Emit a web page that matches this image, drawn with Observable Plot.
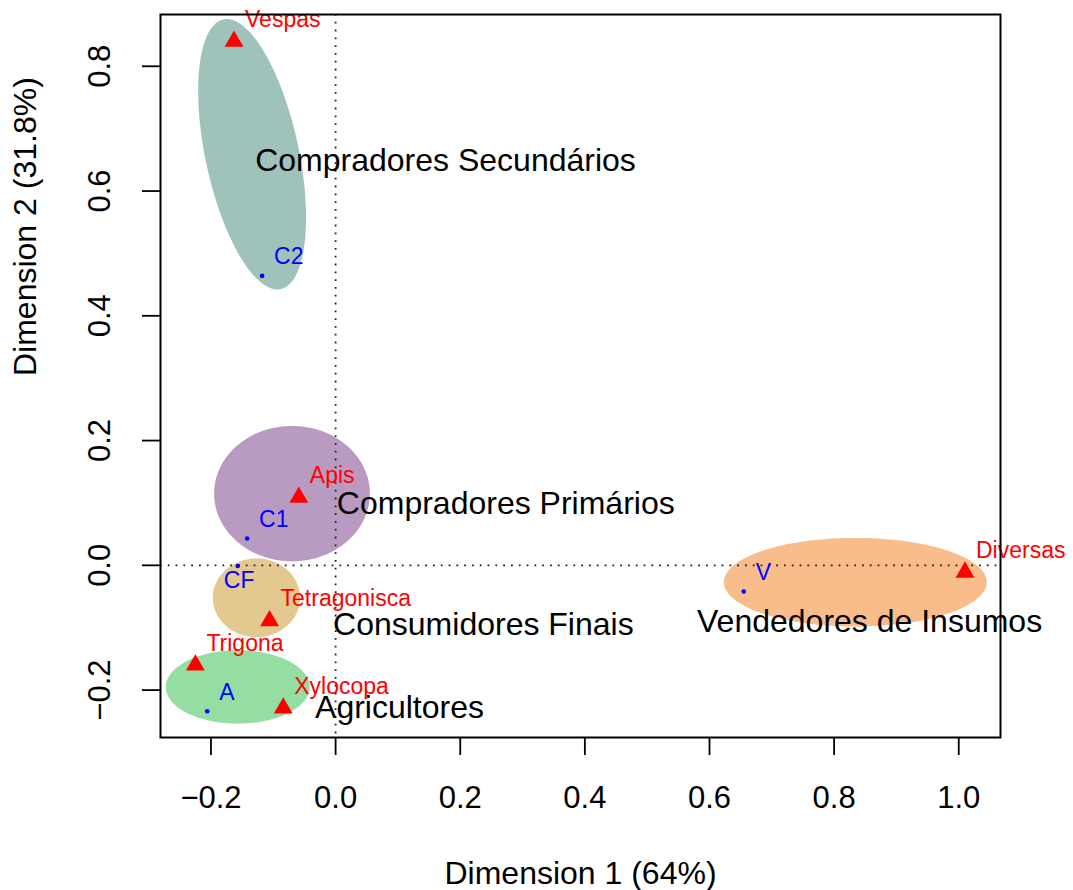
<!DOCTYPE html>
<html>
<head>
<meta charset="utf-8">
<script src="https://cdn.jsdelivr.net/npm/d3@7"></script>
<script src="https://cdn.jsdelivr.net/npm/@observablehq/plot@0.6"></script>
<style>
  html, body { margin: 0; padding: 0; background: #ffffff; }
  #chart svg { display: block; }
</style>
</head>
<body>
<div id="chart"></div>
<script>
// ---- Data ----
// Species (red triangles)
const speciesNames = ["Vespas", "Apis", "Tetragonisca", "Trigona", "Xylocopa", "Diversas"];
const speciesDim1  = [-0.163, -0.059, -0.106, -0.225, -0.084, 1.010];
const speciesDim2  = [ 0.840,  0.109, -0.089, -0.160, -0.229, -0.011];

// Actors (blue points)
const actorNames = ["C2", "C1", "CF", "A", "V"];
const actorDim1  = [-0.118, -0.142, -0.157, -0.206, 0.655];
const actorDim2  = [ 0.464,  0.043, -0.001, -0.234, -0.042];

// Groups (ellipses + black labels)
const groupNames   = ["Compradores Secundários", "Compradores Primários", "Consumidores Finais", "Agricultores", "Vendedores de Insumos"];
const groupLabelX  = [-0.129, 0.002, -0.004, -0.033, 0.580];
const groupLabelY  = [ 0.648, 0.099, -0.095, -0.229, -0.090];
const ellipseCx    = [-0.134, -0.070, -0.127, -0.157, 0.834];
const ellipseCy    = [ 0.659,  0.115, -0.052, -0.195, -0.027];
const ellipseRx    = [ 0.221,  0.125,  0.070,  0.1155, 0.211];
const ellipseRy    = [ 0.075,  0.1085, 0.063,  0.0588, 0.071];
const ellipseAngle = [ 102,    0,      0,      0,      0];   // degrees
const ellipsePalette = ["#9fc3bb", "#b99bc1", "#e3c88f", "#94dda3", "#f9bd8c"];

// Axis ticks and titles
const xTicks = [-0.2, 0.0, 0.2, 0.4, 0.6, 0.8, 1.0];
const yTicks = [-0.2, 0.0, 0.2, 0.4, 0.6, 0.8];
const xTitle = "Dimension 1 (64%)";
const yTitle = "Dimension 2 (31.8%)";

// ---- Build tables ----
const species = speciesNames.map((name, i) => ({name, x: speciesDim1[i], y: speciesDim2[i]}));
const actors  = actorNames.map((name, i) => ({name, x: actorDim1[i], y: actorDim2[i]}));
const groupLabels = groupNames.map((name, i) => ({name, x: groupLabelX[i], y: groupLabelY[i]}));

// Ellipse outlines from centre, radii and angle (geometry of the shape)
function ellipseOutline(i) {
  const n = 144, th = ellipseAngle[i] * Math.PI / 180;
  const pts = [];
  for (let k = 0; k < n; k++) {
    const t = 2 * Math.PI * k / n;
    const a = ellipseRx[i] * Math.cos(t), b = ellipseRy[i] * Math.sin(t);
    pts.push({x: ellipseCx[i] + a * Math.cos(th) - b * Math.sin(th),
              y: ellipseCy[i] + a * Math.sin(th) + b * Math.cos(th)});
  }
  return pts;
}
const ellipseMarks = groupNames.map((g, i) =>
  Plot.line(ellipseOutline(i), {x: "x", y: "y", fill: ellipsePalette[i], stroke: "none", curve: "linear-closed"})
);

const fmt = d3.format(".1f");
const FONT = "'Liberation Sans', Arial, Helvetica, sans-serif";

const chart = Plot.plot({
  width: 1073,
  height: 890,
  marginLeft: 160,
  marginRight: 73,
  marginTop: 14,
  marginBottom: 153,
  style: {fontFamily: FONT, fontSize: "31px", background: "#ffffff", color: "#000000"},
  x: {domain: [-0.281, 1.067], axis: null},
  y: {domain: [-0.276, 0.883], axis: null},
  marks: [
    ...ellipseMarks,
    Plot.ruleX([0], {stroke: "#222", strokeWidth: 1.8, strokeDasharray: "1.8,6"}),
    Plot.ruleY([0], {stroke: "#222", strokeWidth: 1.8, strokeDasharray: "1.8,6"}),
    // axes
    Plot.axisX(xTicks, {tickSize: 18, tickPadding: 30, tickFormat: fmt, fontSize: 31, label: null, strokeWidth: 1.8}),
    Plot.axisY(yTicks, {tickSize: 18, tickFormat: () => "", label: null, strokeWidth: 1.8}),
    Plot.text(yTicks, {y: d => d, text: d => fmt(d), frameAnchor: "left", dx: -60, rotate: -90,
                       textAnchor: "middle", lineAnchor: "middle", fontSize: 31}),
    Plot.text([xTitle], {text: d => d, frameAnchor: "bottom", dy: 136, lineAnchor: "middle", fontSize: 32}),
    Plot.text([yTitle], {text: d => d, frameAnchor: "left", dx: -135, rotate: -90, lineAnchor: "middle", fontSize: 32}),
    // points
    Plot.dot(actors, {x: "x", y: "y", r: 2.3, fill: "#0000ff", stroke: "none"}),
    Plot.text(actors.filter(d => d.name !== "CF"), {x: "x", y: "y", text: "name", fill: "#0000ff", fontSize: 23,
      textAnchor: "start", lineAnchor: "middle", dx: 12, dy: -19}),
    Plot.text(actors.filter(d => d.name === "CF"), {x: "x", y: "y", text: "name", fill: "#0000ff", fontSize: 23,
      textAnchor: "start", lineAnchor: "middle", dx: -14, dy: 15}),
    Plot.dot(species, {x: "x", y: "y", symbol: "triangle", r: 7, fill: "#ff0000", stroke: "none"}),
    Plot.text(species, {x: "x", y: "y", text: "name", fill: "#ff0000", fontSize: 23,
      textAnchor: "start", lineAnchor: "middle", dx: 11, dy: -22}),
    // group labels
    Plot.text(groupLabels, {x: "x", y: "y", text: "name", fill: "#000000", fontSize: 32,
      textAnchor: "start", lineAnchor: "middle"}),
    Plot.frame({stroke: "#000000", strokeWidth: 2})
  ]
});
document.getElementById("chart").appendChild(chart);
</script>
</body>
</html>
